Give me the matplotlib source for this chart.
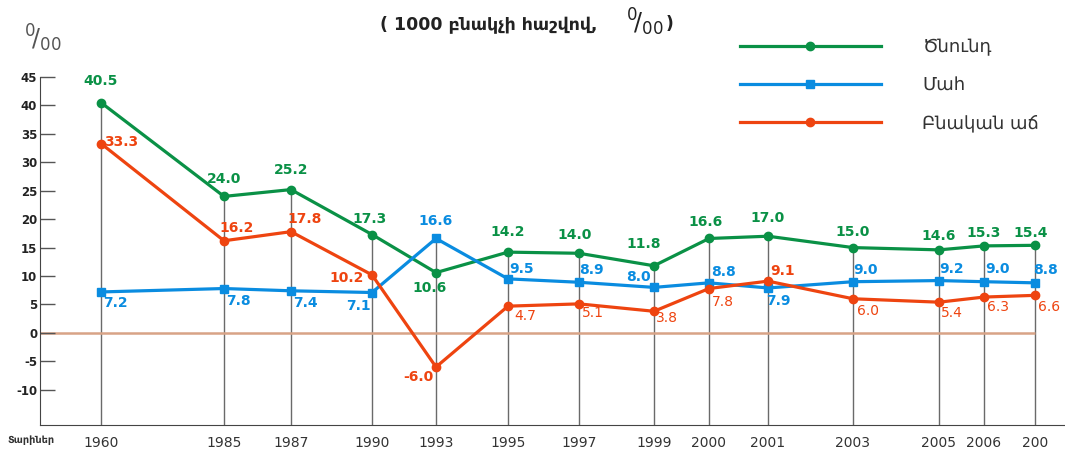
import matplotlib.pyplot as plt

# Տվյալներ (1000 բնակչի հաշվով, ‰)
tariner = ["1960", "1985", "1987", "1990", "1993", "1995", "1997",
           "1999", "2000", "2001", "2003", "2005", "2006", "200"]
cnund = [40.5, 24.0, 25.2, 17.3, 10.6, 14.2, 14.0, 11.8, 16.6, 17.0, 15.0, 14.6, 15.3, 15.4]
mah = [7.2, 7.8, 7.4, 7.1, 16.6, 9.5, 8.9, 8.0, 8.8, 7.9, 9.0, 9.2, 9.0, 8.8]
ach = [33.3, 16.2, 17.8, 10.2, -6.0, 4.7, 5.1, 3.8, 7.8, 9.1, 6.0, 5.4, 6.3, 6.6]

# dasavorutyun (anhavasar taradrutyun x-i vra, inchpes nkarum)
x_pos = [101, 224, 291, 372, 436, 508, 579, 654, 709, 768, 853, 939, 984, 1035]

c_green = "#0a9146"
c_blue = "#0a8ce0"
c_red = "#ee4410"

plt.rcParams['font.family'] = ['DejaVu Sans']

fig = plt.figure(figsize=(10.65, 4.5), dpi=100)
ax = fig.add_axes([40 / 1065, 1 - 425 / 450, 1 - 40 / 1065, (425 - 77) / 450])
ax.set_xlim(40, 1065)
ax.set_ylim(-16.2, 45)

# uxxahayac gcer
tops = [max(a, b, c) for a, b, c in zip(cnund, mah, ach)]
ax.vlines(x_pos, -16.2, tops, color="#6a6a6a", lw=1, zorder=1)
ax.hlines(0, 40, x_pos[-1], color="#d8a386", lw=1.8, zorder=1)

ax.plot(x_pos, cnund, color=c_green, lw=2.3, marker="o", ms=6, label="Ծնունդ", zorder=3)
ax.plot(x_pos, mah, color=c_blue, lw=2.3, marker="s", ms=6, label="Մահ", zorder=3)
ax.plot(x_pos, ach, color=c_red, lw=2.3, marker="o", ms=6, label="Բնական աճ", zorder=3)

# pitakneri texer (offset pixels)
off_g = [(0, 22), (0, 17), (0, 20), (-2, 16), (-6, -15), (0, 20), (-4, 18),
         (-10, 22), (-3, 16), (0, 18), (0, 16), (0, 14), (0, 13), (-4, 12)]
off_b = [(14, -11), (14, -12), (14, -12), (-14, -13), (0, 17), (14, 10), (12, 12),
         (-16, 10), (14, 11), (10, -13), (13, 12), (13, 12), (13, 13), (10, 13)]
off_r = [(20, 2), (13, 13), (14, 13), (-25, -3), (-18, -10), (17, -10), (14, -9),
         (13, -7), (14, -13), (15, 10), (15, -12), (13, -11), (14, -10), (14, -12)]
bold_r = {0, 1, 2, 3, 4, 9}

for i, x in enumerate(x_pos):
    ax.annotate(f"{cnund[i]:.1f}", (x, cnund[i]), xytext=off_g[i], textcoords="offset pixels",
                ha="center", va="center", color=c_green, fontsize=10, fontweight="bold")
    ax.annotate(f"{mah[i]:.1f}", (x, mah[i]), xytext=off_b[i], textcoords="offset pixels",
                ha="center", va="center", color=c_blue, fontsize=10, fontweight="bold")
    ax.annotate(f"{ach[i]:.1f}", (x, ach[i]), xytext=off_r[i], textcoords="offset pixels",
                ha="center", va="center", color=c_red, fontsize=10,
                fontweight="bold" if i in bold_r else "normal")

# arancqner
for s in ["top", "right"]:
    ax.spines[s].set_visible(False)
ax.spines["left"].set_color("#444444")
ax.spines["bottom"].set_color("#444444")
ax.spines["left"].set_bounds(-16.2, 45)

ax.set_yticks(range(-10, 50, 5))
ax.set_yticklabels([str(v) for v in range(-10, 50, 5)])
ax.tick_params(axis="y", direction="in", length=11, width=1, color="#555555",
               labelsize=8.5, pad=2, labelcolor="#222222")
for t in ax.get_yticklabels():
    t.set_fontweight("bold")

ax.set_xticks(x_pos)
ax.set_xticklabels(tariner)
ax.tick_params(axis="x", length=0, labelsize=10, labelcolor="#333333", pad=8)

fig.text(8 / 1065, 1 - 440 / 450, "Տարիներ", fontsize=7, fontweight="bold",
         color="#333333", ha="left", va="center")

# verevi texer
fig.text(24 / 1065, 1 - 38 / 450, r"$^{0}\!/_{00}$", fontsize=17, color="#555555",
         ha="left", va="center")
fig.text(380 / 1065, 1 - 24 / 450, "( 1000 բնակչի հաշվով,", fontsize=12.5, fontweight="bold",
         color="#222222", ha="left", va="center")
fig.text(626 / 1065, 1 - 22 / 450, r"$^{0}\!/_{00}$", fontsize=17, color="#222222",
         ha="left", va="center")
fig.text(666 / 1065, 1 - 24 / 450, ")", fontsize=12.5, fontweight="bold", color="#222222",
         ha="left", va="center")

leg = ax.legend(loc="upper left", bbox_to_anchor=(740 / 1065, 1 - 38 / 450), bbox_transform=fig.transFigure,
                frameon=False, fontsize=13, handlelength=7.8, handletextpad=2.3,
                labelspacing=1.12, numpoints=1, borderaxespad=0, borderpad=0)
for t in leg.get_texts():
    t.set_color("#333333")

fig.savefig("out.png", dpi=100)
